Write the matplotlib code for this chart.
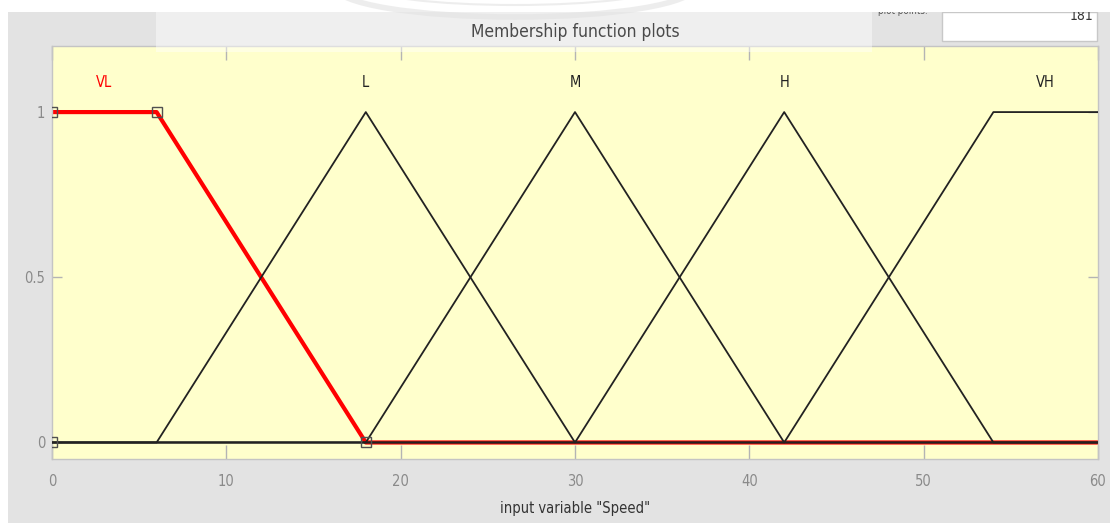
import matplotlib
matplotlib.use("Agg")
import matplotlib.pyplot as plt
from matplotlib.patches import Rectangle, Arc
from matplotlib.transforms import IdentityTransform
import numpy as np

# ---------------------------------------------------------------------------
#  membership functions of input variable "Speed"
# ---------------------------------------------------------------------------
var_name   = 'Speed'
var_range  = [0, 60]
n_points   = 181
mf_names   = ['VL', 'L', 'M', 'H', 'VH']
mf_types   = ['trapmf', 'trimf', 'trimf', 'trimf', 'trapmf']
mf_params  = [[0, 0, 6, 18],
              [6, 18, 30],
              [18, 30, 42],
              [30, 42, 54],
              [42, 54, 60, 60]]
selected   = 0
x_ticks    = [0, 10, 20, 30, 40, 50, 60]
y_ticks    = [0, 0.5, 1]
y_ticklabels = ['0', '0.5', '1']

W, H = 1110, 523
plt.rcParams['font.family'] = ['DejaVu Sans']
plt.rcParams['font.stretch'] = 'condensed'


def trimf(x, p):
    a, b, c = p
    left  = (x - a) / (b - a) if b > a else (x >= a).astype(float)
    right = (c - x) / (c - b) if c > b else (x <= c).astype(float)
    return np.clip(np.minimum(left, right), 0, 1)


def trapmf(x, p):
    a, b, c, d = p
    left  = (x - a) / (b - a) if b > a else np.where(x >= a, 1.0, 0.0)
    right = (d - x) / (d - c) if d > c else np.where(x <= d, 1.0, 0.0)
    return np.clip(np.minimum(np.minimum(left, right), 1), 0, 1)


def key_points(kind, p):
    if kind == 'trimf':
        return [p[0], p[1], p[2]], [0, 1, 0]
    return [p[0], p[1], p[2], p[3]], [0, 1, 1, 0]


def label_x(kind, p):
    if kind == 'trimf':
        return p[1]
    return 0.5 * (p[1] + p[2])


def fx(px):
    return px / W


def fy(py):
    return 1 - py / H


fig = plt.figure(figsize=(W / 100, H / 100), dpi=100, facecolor='white')

# window panel behind the plot
fig.patches.append(Rectangle((fx(8), 0), 1 - fx(8), fy(12), transform=fig.transFigure,
                             facecolor='#e3e3e3', edgecolor='none', zorder=-10))

ax = fig.add_axes([fx(52), fy(459), fx(1098) - fx(52), fy(46) - fy(459)])
ax.set_facecolor('#ffffcc')

x = np.linspace(var_range[0], var_range[1], n_points)
funcs = {'trimf': trimf, 'trapmf': trapmf}

# selected function underneath, thick red
kind, p = mf_types[selected], mf_params[selected]
ax.plot(x, funcs[kind](x, p), color='#ff0000', linewidth=3.0, zorder=2)
kx, ky = key_points(kind, p)
ax.plot(kx, ky, linestyle='none', marker='s', markersize=7.5, markerfacecolor='none',
        markeredgecolor='#505050', markeredgewidth=1.0, zorder=4)

for i, (name, kind, p) in enumerate(zip(mf_names, mf_types, mf_params)):
    if i != selected:
        ax.plot(x, funcs[kind](x, p), color='#222222', linewidth=1.3, zorder=3)
    ax.text(label_x(kind, p), 1.09, name, ha='center', va='center', fontsize=10.5,
            color='#ff0000' if i == selected else '#222222')

ax.set_xlim(var_range)
ax.set_ylim(-0.05, 1.2)
ax.set_xticks(x_ticks)
ax.set_yticks(y_ticks)
ax.set_yticklabels(y_ticklabels)
ax.tick_params(axis='both', direction='in', colors='#b4b4b4', labelcolor='#8a8a8a',
               labelsize=10.5, width=1, top=True, right=True)
ax.tick_params(axis='x', length=10, pad=11)
ax.tick_params(axis='y', length=7, pad=5)
for s in ax.spines.values():
    s.set_color('#c4c4c4')
    s.set_linewidth(1)

fig.text(fx(575), fy(508), 'input variable "%s"' % var_name, ha='center', va='center',
         fontsize=10.5, color='#333333')

# title strip over the top edge of the axes
fig.patches.append(Rectangle((fx(156), fy(52)), fx(872) - fx(156), fy(12) - fy(52),
                             transform=fig.transFigure, facecolor='white', alpha=0.45,
                             edgecolor='none', zorder=5))
fig.text(fx(575), fy(32), 'Membership function plots', ha='center', va='center',
         fontsize=12.5, color='#4a4a4a', zorder=6)

# plot points box
fig.patches.append(Rectangle((fx(942), fy(41)), fx(1097) - fx(942), fy(12) - fy(41),
                             transform=fig.transFigure, facecolor='white',
                             edgecolor='#c8c8c8', linewidth=1, zorder=5))
fig.text(fx(1093), fy(16), str(n_points), ha='right', va='center', fontsize=10,
         color='#333333', zorder=6)
fig.text(fx(878), fy(16), 'plot points:', ha='left', va='bottom', fontsize=7,
         color='#555555', zorder=6)

# strip above the window
fig.patches.append(Rectangle((0, fy(12)), 1, 1 - fy(12), transform=fig.transFigure,
                             facecolor='white', edgecolor='none', zorder=8))
for w, h, lw in [(360, 60, 4), (290, 36, 1.5)]:
    fig.patches.append(Arc((515, H + 13), w, h, theta1=180, theta2=360,
                           transform=IdentityTransform(), color='#e2e2e2',
                           linewidth=lw, alpha=0.6, zorder=9))

fig.savefig('out.png', dpi=100, facecolor=fig.get_facecolor())
